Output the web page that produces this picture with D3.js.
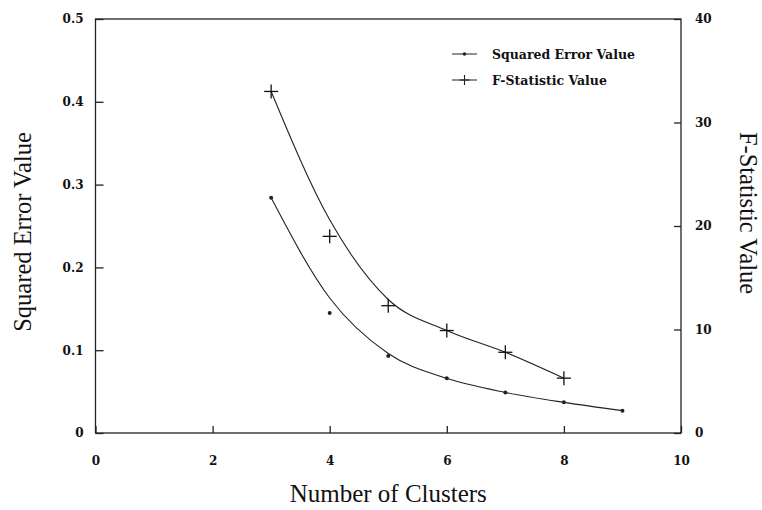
<!DOCTYPE html>
<html>
<head>
<meta charset="utf-8">
<script src="https://cdn.jsdelivr.net/npm/d3@7"></script>
<style>
  html, body { margin: 0; padding: 0; background: #fff; }
  svg { display: block; }
</style>
</head>
<body>
<svg id="chart" width="762" height="510"></svg>
<script>
// ---- data ----
const clusters = [3, 4, 5, 6, 7, 8, 9];
const sqErrValues = [0.284, 0.145, 0.093, 0.066, 0.049, 0.037, 0.027];
const sqErrFit    = [0.284, 0.163, 0.096, 0.066, 0.049, 0.037, 0.027];
const fClusters = [3, 4, 5, 6, 7, 8];
const fStatValues = [33.0, 19.0, 12.3, 9.9, 7.8, 5.3];
const fStatFit    = [33.0, 20.6, 12.9, 9.9, 7.8, 5.3];
const xTicks = [0, 2, 4, 6, 8, 10];
const yLeftTicks = [0, 0.1, 0.2, 0.3, 0.4, 0.5];
const yRightTicks = [0, 10, 20, 30, 40];
const legendLabels = ["Squared Error Value", "F-Statistic Value"];

// ---- layout ----
const svg = d3.select("#chart");
const m = {left: 95.5, right: 81, top: 19, bottom: 77};
const W = 762, H = 510;
const x = d3.scaleLinear().domain([0, 10]).range([m.left, W - m.right]);
const yL = d3.scaleLinear().domain([0, 0.5]).range([H - m.bottom, m.top]);
const yR = d3.scaleLinear().domain([0, 40]).range([H - m.bottom, m.top]);

const tickFont = "'DejaVu Serif', serif";
const titleFont = "'Liberation Serif', 'Times New Roman', serif";

// frame
svg.append("rect")
  .attr("x", x(0)).attr("y", yL(0.5))
  .attr("width", x(10) - x(0)).attr("height", yL(0) - yL(0.5))
  .attr("fill", "none").attr("stroke", "#222").attr("stroke-width", 1.3);

function styleAxis(g) {
  g.select(".domain").remove();
  g.selectAll(".tick line").attr("stroke", "#222").attr("stroke-width", 1.3);
  g.selectAll(".tick text").attr("fill", "#111")
    .style("font-family", tickFont).style("font-size", "12px").style("font-weight", "bold");
}

// bottom axis (ticks inward)
svg.append("g").attr("transform", `translate(0,${yL(0)})`)
  .call(d3.axisBottom(x).tickValues(xTicks).tickSize(-7).tickPadding(23).tickFormat(d3.format("d")))
  .call(styleAxis);

// left axis
svg.append("g").attr("transform", `translate(${x(0)},0)`)
  .call(d3.axisLeft(yL).tickValues(yLeftTicks).tickSize(-8).tickPadding(12)
    .tickFormat(d => d === 0 ? "0" : d3.format(".1f")(d)))
  .call(styleAxis);

// right axis
svg.append("g").attr("transform", `translate(${x(10)},0)`)
  .call(d3.axisRight(yR).tickValues(yRightTicks).tickSize(-7).tickPadding(14).tickFormat(d3.format("d")))
  .call(styleAxis);

// axis titles
svg.append("text")
  .attr("transform", `translate(31,232) rotate(-90)`)
  .attr("text-anchor", "middle")
  .style("font-family", titleFont).style("font-size", "24.5px").attr("fill", "#111")
  .text("Squared Error Value");

svg.append("text")
  .attr("transform", `translate(740,213) rotate(90)`)
  .attr("text-anchor", "middle")
  .style("font-family", titleFont).style("font-size", "24.5px").attr("fill", "#111")
  .text("F-Statistic Value");

svg.append("text")
  .attr("x", (x(0) + x(10)) / 2).attr("y", 502)
  .attr("text-anchor", "middle")
  .style("font-family", titleFont).style("font-size", "25px").attr("fill", "#111")
  .text("Number of Clusters");

// curves
const seLine = d3.line().x((d, i) => x(clusters[i])).y(d => yL(d)).curve(d3.curveMonotoneX);
const fLine = d3.line().x((d, i) => x(fClusters[i])).y(d => yR(d)).curve(d3.curveMonotoneX);

svg.append("path").attr("d", seLine(sqErrFit))
  .attr("fill", "none").attr("stroke", "#222").attr("stroke-width", 1.1);
svg.append("path").attr("d", fLine(fStatFit))
  .attr("fill", "none").attr("stroke", "#222").attr("stroke-width", 1.1);

// markers
svg.selectAll(".se-pt").data(sqErrValues).enter().append("circle")
  .attr("cx", (d, i) => x(clusters[i])).attr("cy", d => yL(d))
  .attr("r", 2).attr("fill", "#222");

const plus = (g, cx, cy, h) => {
  g.append("line").attr("x1", cx - h).attr("x2", cx + h).attr("y1", cy).attr("y2", cy);
  g.append("line").attr("x1", cx).attr("x2", cx).attr("y1", cy - h).attr("y2", cy + h);
};
const fg = svg.append("g").attr("stroke", "#111").attr("stroke-width", 1.3);
fStatValues.forEach((d, i) => plus(fg, x(fClusters[i]), yR(d), 7));

// legend
const lg = svg.append("g");
const ly = [54, 80];
lg.append("line").attr("x1", 452).attr("x2", 477).attr("y1", ly[0]).attr("y2", ly[0])
  .attr("stroke", "#222").attr("stroke-width", 1);
lg.append("circle").attr("cx", 464.5).attr("cy", ly[0]).attr("r", 1.8).attr("fill", "#222");
lg.append("line").attr("x1", 452).attr("x2", 477).attr("y1", ly[1]).attr("y2", ly[1])
  .attr("stroke", "#222").attr("stroke-width", 1);
const lgp = lg.append("g").attr("stroke", "#222").attr("stroke-width", 1.1);
plus(lgp, 464.5, ly[1], 5);
legendLabels.forEach((t, i) => {
  lg.append("text").attr("x", 492).attr("y", ly[i] + 4.5)
    .style("font-family", tickFont).style("font-size", "12.5px").style("font-weight", "bold")
    .attr("fill", "#111").text(t);
});
</script>
</body>
</html>
